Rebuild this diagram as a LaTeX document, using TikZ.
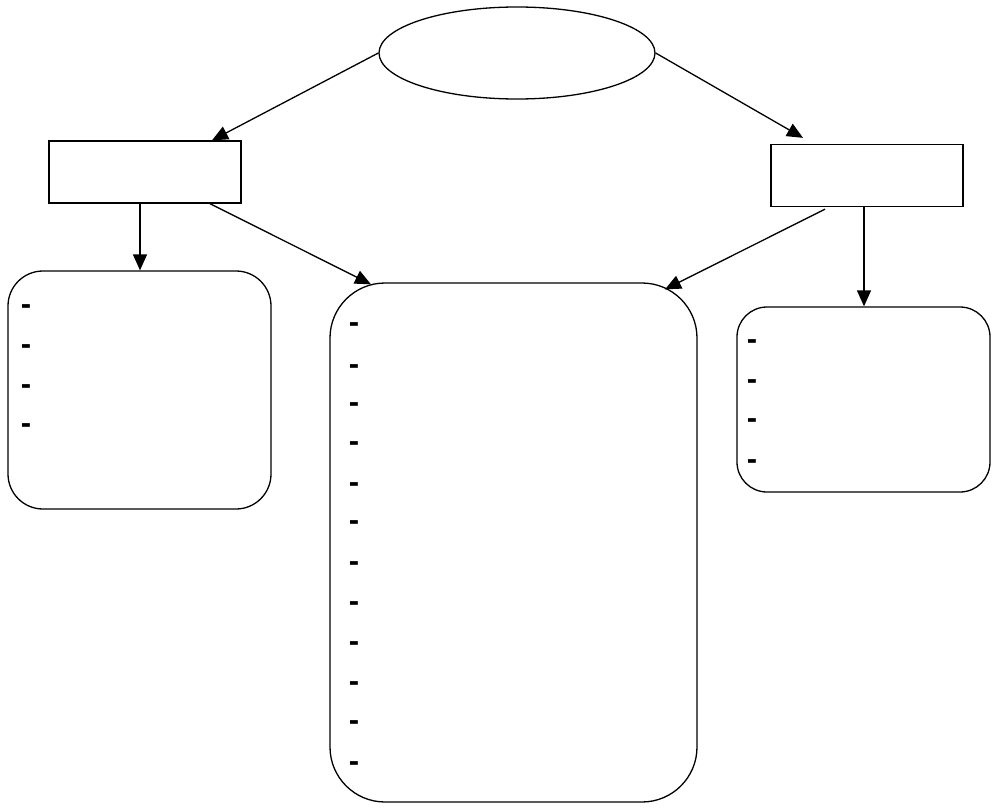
\documentclass[tikz,border=0pt]{standalone}
\usepackage{fontspec}
\setmainfont{Liberation Sans}
\usetikzlibrary{shapes.geometric,arrows.meta}
\begin{document}
\begin{tikzpicture}[x=1pt,y=-1pt,
  line width=1.3pt,
  arr/.style={-{Triangle[length=16pt,width=14pt]}},
  rectbox/.style={draw,rectangle,minimum width=192pt,minimum height=62pt,inner sep=0pt},
  roundbox/.style={draw,rectangle,rounded corners=#1,inner sep=0pt},
  dashtxt/.style={inner sep=0pt,yshift=-4pt,font=\fontsize{31}{34}\selectfont\bfseries}
]
\useasboundingbox (0,0) rectangle (993,808);
\node[draw,ellipse,minimum width=276pt,minimum height=92pt,inner sep=0pt] (ell) at (517,53) {};
\node[rectbox] (lrect) at (145,172) {};
\node[rectbox] (rrect) at (867,175.5) {};
\node[roundbox=35pt,minimum width=263pt,minimum height=238pt] (lbox) at (139.5,390) {};
\node[roundbox=55pt,minimum width=367pt,minimum height=519pt] (cbox) at (513.5,542.5) {};
\node[roundbox=30pt,minimum width=253pt,minimum height=185pt] (rbox) at (863.5,399.5) {};
% dashes
\foreach \y [count=\i] in {306,346,386,425}
  \node[dashtxt] (ld\i) at (26,\y) {-};
\foreach \y [count=\i] in {324,366,404,443,484,522,563,603,643,683,722,763}
  \node[dashtxt] (cd\i) at (354,\y) {-};
\foreach \y [count=\i] in {341,381,420,461}
  \node[dashtxt] (rd\i) at (752,\y) {-};
% connectors
\draw[arr] (ell.west) -- ([xshift=67pt]lrect.north);
\draw[arr] (ell.east) -- ([xshift=-64pt,yshift=6pt]rrect.north);
\draw[arr] ([xshift=-5pt]lrect.south) -- ([xshift=-5pt]lrect.south |- lbox.north);
\draw[arr] ([xshift=65pt]lrect.south) -- ([xshift=-142.5pt,yshift=-2pt]cbox.north);
\draw[arr] ([xshift=-42pt,yshift=-2pt]rrect.south) -- ([xshift=151.5pt,yshift=-7pt]cbox.north);
\draw[arr] ([xshift=-3pt]rrect.south) -- ([xshift=-3pt]rrect.south |- rbox.north);
\end{tikzpicture}
\end{document}
